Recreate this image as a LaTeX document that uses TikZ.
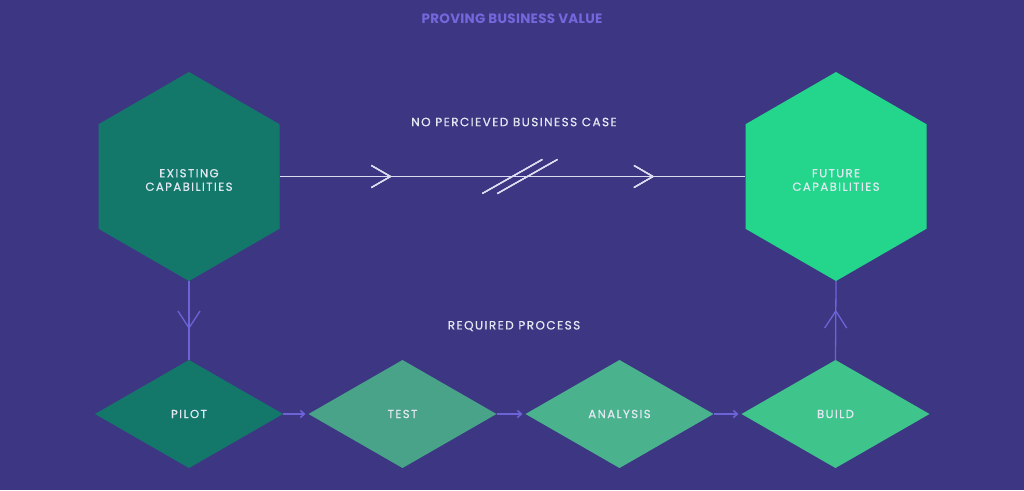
\documentclass[tikz,border=0pt]{standalone}
\usepackage{fontspec}
\setmainfont{Poppins}
\newfontfamily\labfont{Poppins}[LetterSpace=12,FakeBold=0.6]
\newfontfamily\titfont{Poppins}[LetterSpace=2]
\usetikzlibrary{shapes.geometric,decorations.markings,arrows.meta}
\definecolor{bg}{HTML}{3D3783}
\definecolor{darkg}{HTML}{13786A}
\definecolor{testg}{HTML}{48A388}
\definecolor{anag}{HTML}{4AB38E}
\definecolor{buildg}{HTML}{3FC48C}
\definecolor{futg}{HTML}{24D68B}
\definecolor{labc}{HTML}{E2E8F2}
\definecolor{titc}{HTML}{7467DC}
\definecolor{pur}{HTML}{6C63D6}
\definecolor{wline}{HTML}{DCDCF0}
\tikzset{
  hexa/.style={regular polygon, regular polygon sides=6, shape border rotate=30,
    minimum size=209pt, inner sep=0pt, outer sep=0pt},
  hexlbl/.style={text=labc, align=center, font=\labfont\fontsize{11.7}{13.5}\selectfont},
  diam/.style={diamond, minimum width=188pt, minimum height=108pt, inner sep=0pt,
    outer sep=0pt, text=labc, font=\labfont\fontsize{11.7}{13.5}\selectfont},
  lbl/.style={text=labc, font=\labfont\fontsize{12}{14}\selectfont},
  chev/.style={decoration={markings, mark=at position #1 with {
      \draw[line width=1.2pt] (-19pt,11pt) -- (0pt,0pt) -- (-19pt,-11pt);}}, postaction=decorate},
  vchev/.style={decoration={markings, mark=at position #1 with {
      \draw[line width=1.3pt] (-17pt,11pt) -- (0pt,0pt) -- (-17pt,-11pt);}}, postaction=decorate},
  brk/.style={decoration={markings, mark=at position #1 with {
      \draw[line width=1.2pt] (-30pt,-17pt) -- (30pt,17pt);}}, postaction=decorate},
  small/.style={draw=pur, line width=1.5pt, -{Straight Barb[length=4pt,width=7pt]}, shorten >=3pt},
}
\begin{document}
\begin{tikzpicture}[x=1pt,y=-1pt]
\fill[bg] (0,0) rectangle (1024,490);
\useasboundingbox (0,0) rectangle (1024,490);

\node[text=titc, font=\titfont\bfseries\fontsize{13.5}{15}\selectfont] (title) at (512,19) {PROVING BUSINESS VALUE};

\node[hexa, fill=darkg] (exist) at (189,176.5) {};
\node[hexa, fill=futg] (future) at (836,176.5) {};
\node[hexlbl] (existlbl) at (189,180) {EXISTING\\CAPABILITIES};
\node[hexlbl] (futurelbl) at (836,180) {FUTURE\\CAPABILITIES};

\node[lbl] (nocase) at (514,122) {NO PERCIEVED BUSINESS CASE};
\node[lbl] (req) at (514,326) {REQUIRED PROCESS};

\node[diam, fill=darkg] (pilot) at (189,414) {PILOT};
\node[diam, fill=testg] (test) at (402.5,414) {TEST};
\node[diam, fill=anag] (ana) at (619.5,414) {ANALYSIS};
\node[diam, fill=buildg] (build) at (835.5,414) {BUILD};

\draw[wline, line width=1.2pt, chev=0.238, chev=0.8015, brk=0.4996, brk=0.532]
  (exist.east) -- (future.west);

\draw[pur, line width=1.3pt, vchev=0.595] (exist.south) -- (pilot.north);
\draw[pur, line width=1.3pt, vchev=0.62] (build.north) -- (future.south);

\draw[small] (pilot.east) -- (test.west);
\draw[small] (test.east) -- (ana.west);
\draw[small] (ana.east) -- (build.west);
\end{tikzpicture}
\end{document}
